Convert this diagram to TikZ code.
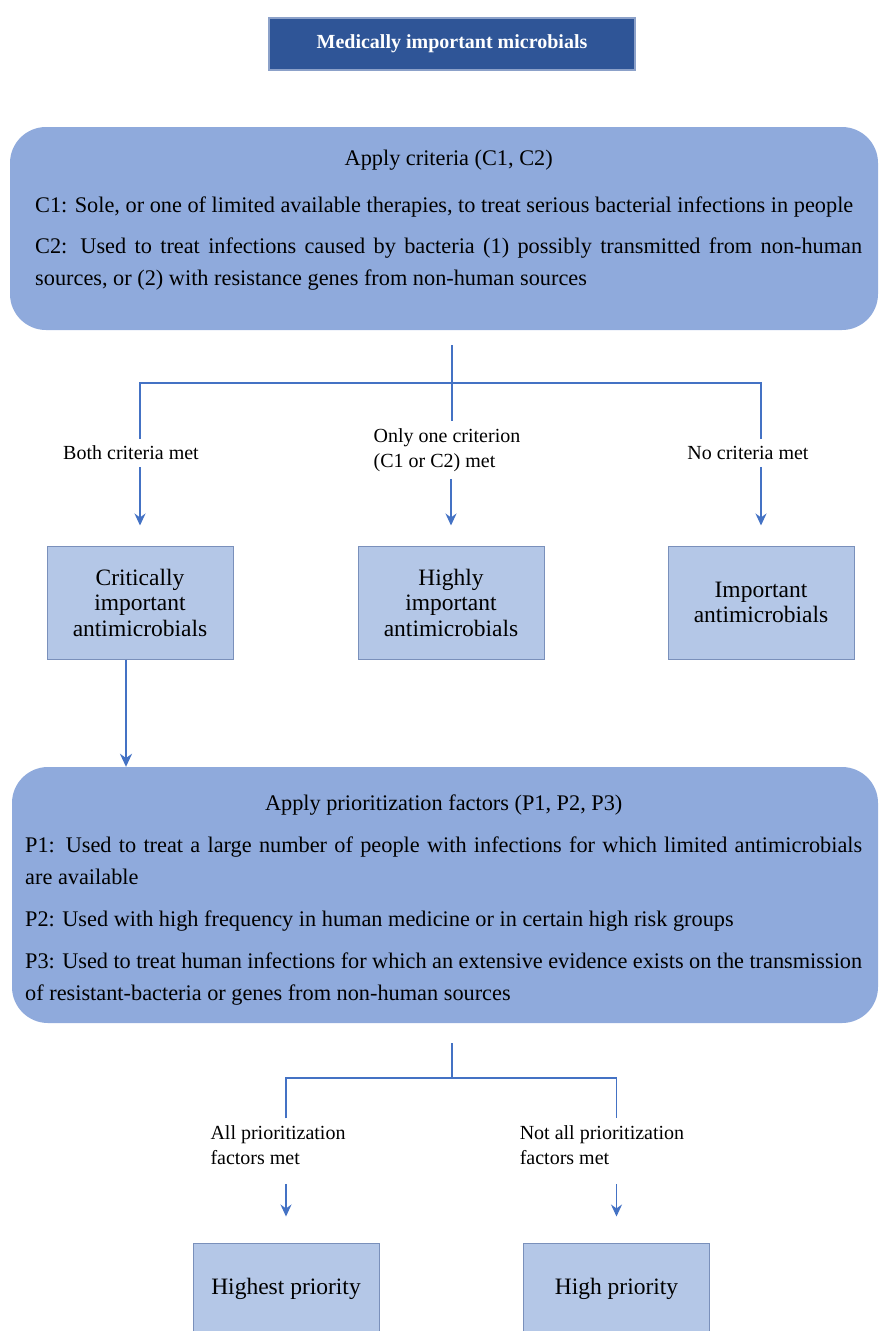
\documentclass[tikz,border=0pt]{standalone}
\usepackage{fontspec}
\setmainfont{Liberation Serif}
\usetikzlibrary{arrows.meta,positioning}

\definecolor{headblue}{HTML}{2F5597}
\definecolor{panelblue}{HTML}{8FAADC}
\definecolor{cellblue}{HTML}{B4C7E7}
\definecolor{linkblue}{HTML}{4472C4}

\begin{document}
\begin{tikzpicture}[x=1pt,y=-1pt,>={Stealth[length=12pt,width=11pt]},
    head/.style={fill=headblue,draw=panelblue!80!gray,line width=1.5pt,text=white,
      minimum width=366pt,minimum height=52pt,font=\fontsize{20}{24}\selectfont\bfseries},
    panel/.style={fill=panelblue,rounded corners=36pt},
    paneltext/.style={align=justify,inner sep=0pt,anchor=north west,
      font=\fontsize{22.3}{32}\selectfont},
    cell/.style={fill=cellblue,draw=panelblue!85!black,line width=1pt,minimum width=186pt,
      minimum height=113pt,align=center,font=\fontsize{23.5}{25.5}\selectfont},
    cond/.style={align=left,inner sep=7pt,font=\fontsize{20}{25}\selectfont},
    link/.style={draw=linkblue,line width=1.4pt},
    arr/.style={link,->,shorten >=20pt}]

            \useasboundingbox (0,0) rectangle (880,1331);

            \node[head] (top) at (452,44) {Medically important microbials};

            % criteria
            \node[panel,minimum width=868pt,minimum height=203pt] (criteria) at (444,228.5) {};

            \node[paneltext,text width=827pt] (criteriatext) at (35,150) {\centerline{Apply criteria (C1, C2)}\par\vspace{15pt}
              C1: Sole, or one of limited available therapies, to treat serious bacterial infections in people\par\vspace{9pt}
              C2: Used to treat infections caused by bacteria (1) possibly transmitted from non-human sources, or (2) with resistance genes from non-human sources};

            \coordinate (fork1) at (452,345);
            \coordinate (join1) at (452,383);

            \node[cond] (both) at (131,453) {Both criteria met};

            \node[cond] (one) at (447,450) {Only one criterion\\(C1 or C2) met};

            \node[cond] (none) at (748,453) {No criteria met};

            \node[cell] (crit) at (140,602.5) {Critically\\important\\antimicrobials};

            \node[cell] (high) at (451,602.5) {Highly\\important\\antimicrobials};

            \node[cell] (imp) at (761,602.5) {Important\\antimicrobials};

            \draw[link] (fork1) -- (fork1 |- one.north);

            \draw[link] (crit.north |- both.north) |- (join1) -| (imp.north |- none.north);

            \draw[arr] (crit.north |- both.south) -- (crit.north);

            \draw[arr] (high.north |- one.south) -- (high.north);

            \draw[arr] (imp.north |- none.south) -- (imp.north);

            % prioritization
            \node[panel,minimum width=866pt,minimum height=256pt] (factors) at (445,895) {};

            \draw[link,line width=2.6pt,-{Stealth[length=13pt,width=12pt]}] ([xshift=-14pt]crit.south) -- ([xshift=-14pt]crit.south |- factors.north);

            \node[paneltext,text width=837pt] (factorstext) at (25,795) {\centerline{Apply prioritization factors (P1, P2, P3)}\par\vspace{10pt}
              P1: Used to treat a large number of people with infections for which limited antimicrobials\linebreak are available\par\vspace{10pt}
              P2: Used with high frequency in human medicine or in certain high risk groups\par\vspace{10pt}
              P3: Used to treat human infections for which an extensive evidence exists on the transmission of resistant-bacteria or genes from non-human sources};

            \coordinate (fork2) at (452,1043);
            \coordinate (join2) at (452,1078);

            \node[cond] (allmet) at (278,1145) {All prioritization\\factors met};

            \node[cond] (notall) at (602,1145) {Not all prioritization\\factors met};

            \node[cell,minimum height=92pt] (highest) at (286,1289) {Highest priority};

            \node[cell,minimum height=92pt] (highprio) at (616.5,1289) {High priority};

            \draw[link] (fork2) -- (join2);

            \draw[link] (highest.north |- allmet.north) |- (join2) -| (highprio.north |- notall.north);

            \draw[arr,shorten <=12pt,shorten >=26pt] (highest.north |- allmet.south) -- (highest.north);

            \draw[arr,shorten <=12pt,shorten >=26pt] (highprio.north |- notall.south) -- (highprio.north);

        \end{tikzpicture}
\end{document}
